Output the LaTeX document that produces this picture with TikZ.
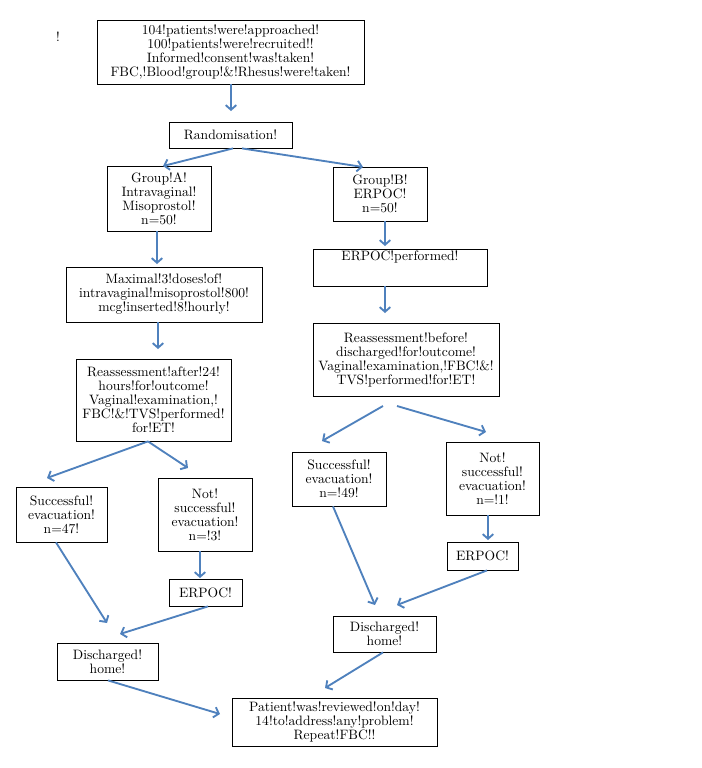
\documentclass[tikz,border=0pt]{standalone}
\usetikzlibrary{arrows.meta,calc}
\definecolor{arr}{HTML}{4F81BD}
\tikzset{
  box/.style={draw=black,line width=0.6pt,fill=white,align=center,inner sep=1pt,
    font=\fontsize{10.2}{10.5}\selectfont},
  flow/.style={draw=arr,line width=1.4pt,-{Straight Barb[length=3.5pt,width=8pt]}}
}
\newcommand\fcbox[6]{\node[box,minimum width={#4*0.75pt},minimum height={#5*0.75pt}] (#1) at (#2,#3) {#6};}
\begin{document}
\begin{tikzpicture}[x=0.75pt,y=-0.75pt]
\useasboundingbox (0,0) rectangle (702,768);
\node[font=\fontsize{10}{10.5}\selectfont] (bang) at (58,37) {!};
\fcbox{top}{230.5}{52}{267}{64}{104!patients!were!approached!\\100!patients!were!recruited!!\\Informed!consent!was!taken!\\FBC,!Blood!group!\&!Rhesus!were!taken!}
\fcbox{rand}{230.5}{135}{123}{26}{Randomisation!}
\fcbox{ga}{159}{198.5}{104}{65}{Group!A!\\Intravaginal!\\Misoprostol!\\n=50!}
\fcbox{gb}{380}{194}{94}{54}{Group!B!\\ERPOC!\\n=50!}
\fcbox{max}{164}{294.5}{196}{55}{Maximal!3!doses!of!\\intravaginal!misoprostol!800!\\mcg!inserted!8!hourly!}
\fcbox{reA}{153.5}{400}{155}{82}{Reassessment!after!24!\\hours!for!outcome!\\Vaginal!examination,!\\FBC!\&!TVS!performed!\\for!ET!}
\fcbox{erp}{400}{267.5}{174}{37}{ERPOC!performed!\\[7pt]\mbox{}}
\fcbox{reB}{406}{359.5}{186}{73}{Reassessment!before!\\discharged!for!outcome!\\Vaginal!examination,!FBC!\&!\\TVS!performed!for!ET!}
\fcbox{sA}{61.5}{514.5}{91}{55}{Successful!\\evacuation!\\n=47!}
\fcbox{nA}{205}{514.5}{94}{73}{Not!\\successful!\\evacuation!\\n=!3!}
\fcbox{eA}{205.5}{592.5}{73}{27}{ERPOC!}
\fcbox{dA}{107.5}{661.5}{101}{37}{Discharged!\\home!}
\fcbox{sB}{339}{479}{94}{54}{Successful!\\evacuation!\\n=!49!}
\fcbox{nB}{492.5}{478.5}{93}{73}{Not!\\successful!\\evacuation!\\n=!1!}
\fcbox{eB}{482.5}{556}{71}{28}{ERPOC!}
\fcbox{dB}{384.5}{634}{103}{36}{Discharged!\\home!}
\fcbox{fin}{334.5}{722}{205}{48}{Patient!was!reviewed!on!day!\\14!to!address!any!problem!\\Repeat!FBC!!}
% free arrow ends
\coordinate (t1) at (231,111);
\coordinate (t2) at (163,166);
\coordinate (t3) at (363,167);
\coordinate (t4) at (157,264);
\coordinate (t5) at (385,246);
\coordinate (t6) at (158,349);
\coordinate (t7) at (385,313);
\coordinate (t8) at (47,478);
\coordinate (t9) at (188,468);
\coordinate (s10) at (383,406);
\coordinate (t10) at (322,441);
\coordinate (s11) at (397,406);
\coordinate (t11) at (486,432);
\coordinate (t12) at (200,578);
\coordinate (t13) at (107,623);
\coordinate (t14) at (120,634);
\coordinate (t15) at (220,714);
\coordinate (t16) at (488,540);
\coordinate (t17) at (375,605);
\coordinate (t18) at (397,605);
\coordinate (t19) at (325,688);
\draw[flow] ($(top.south)+(0.5,0)$) -- (t1);
\draw[flow] ($(rand.south)+(2.5,0)$) -- (t2);
\draw[flow] ($(rand.south)+(11.5,0)$) -- (t3);
\draw[flow] ($(ga.south)+(-2,0)$) -- (t4);
\draw[flow] ($(gb.south)+(5,0)$) -- (t5);
\draw[flow] ($(max.south)+(-6,0)$) -- (t6);
\draw[flow] ($(erp.south)+(-15,0)$) -- (t7);
\draw[flow] ($(reA.south)+(-5.5,0)$) -- (t8);
\draw[flow] ($(reA.south)+(-5.5,0)$) -- (t9);
\draw[flow] (s10) -- (t10);
\draw[flow] (s11) -- (t11);
\draw[flow] ($(nA.south)+(-5,0)$) -- (t12);
\draw[flow] ($(sA.south)+(-5.5,0)$) -- (t13);
\draw[flow] ($(eA.south)+(2.5,0)$) -- (t14);
\draw[flow] ($(dA.south)+(0.5,0)$) -- (t15);
\draw[flow] ($(nB.south)+(-4.5,0)$) -- (t16);
\draw[flow] ($(sB.south)+(-6,0)$) -- (t17);
\draw[flow] ($(eB.south)+(4.5,0)$) -- (t18);
\draw[flow] ($(dB.south)+(-1.5,0)$) -- (t19);
\end{tikzpicture}
\end{document}
